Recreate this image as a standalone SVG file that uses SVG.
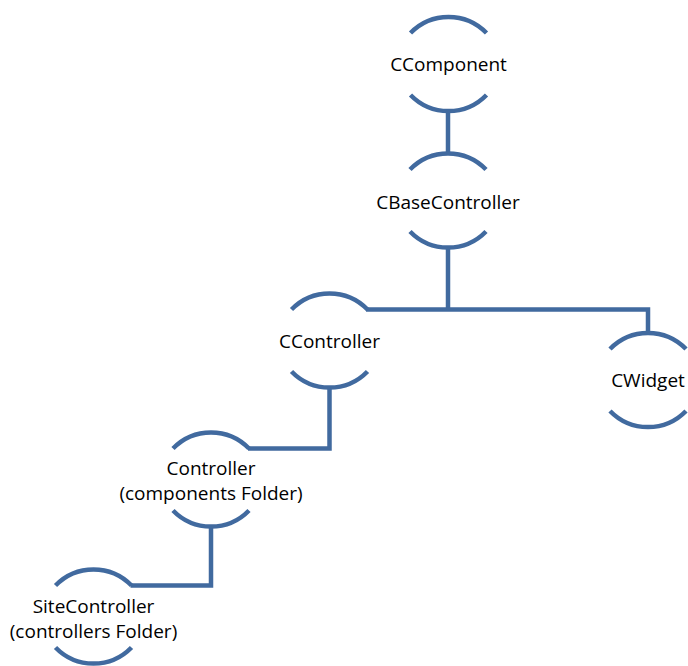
<svg xmlns="http://www.w3.org/2000/svg" xmlns:xlink="http://www.w3.org/1999/xlink" width="688" height="666" viewBox="0 0 688 666">
<style>
.ring{fill:none;stroke:#416A9F;stroke-width:4.5}
.conn{fill:none;stroke:#416A9F;stroke-width:4.5;stroke-linejoin:miter}
.lbl{font-family:"Open Sans","Liberation Sans",sans-serif;font-size:19px;fill:#000;text-anchor:middle}
</style>
<defs>
<path id="ring" d="M-38,-31 A53,53 0 0 1 38,-31 M-38,31 A53,53 0 0 0 38,31"/>
</defs>
<rect width="688" height="666" fill="#fff"/>
<g id="connectors">
<path class="conn" d="M448,110 V154"/>
<path class="conn" d="M448,247 V309.5"/>
<path class="conn" d="M366,309.5 H648 V334"/>
<path class="conn" d="M329.5,386 V448.5 H248"/>
<path class="conn" d="M211,525 V585.5 H130.5"/>
</g>
<g id="n-ccomponent" transform="translate(448.5,64)">
<use xlink:href="#ring" class="ring"/>
<text class="lbl" x="0" y="6.5">CComponent</text>
</g>
<g id="n-cbasecontroller" transform="translate(448,200.5)">
<use xlink:href="#ring" class="ring"/>
<text class="lbl" x="0" y="8">CBaseController</text>
</g>
<g id="n-ccontroller" transform="translate(329.5,340.5)">
<use xlink:href="#ring" class="ring"/>
<text class="lbl" x="0" y="7">CController</text>
</g>
<g id="n-cwidget" transform="translate(648,380)">
<use xlink:href="#ring" class="ring"/>
<text class="lbl" x="0" y="7">CWidget</text>
</g>
<g id="n-controller" transform="translate(211,479.5)">
<use xlink:href="#ring" class="ring"/>
<text class="lbl" x="0" y="-4.5">Controller</text>
<text class="lbl" x="0" y="20.5">(components Folder)</text>
</g>
<g id="n-sitecontroller" transform="translate(93.5,616.5)">
<use xlink:href="#ring" class="ring"/>
<text class="lbl" x="0" y="-3.5">SiteController</text>
<text class="lbl" x="0" y="21.5">(controllers Folder)</text>
</g>
</svg>
